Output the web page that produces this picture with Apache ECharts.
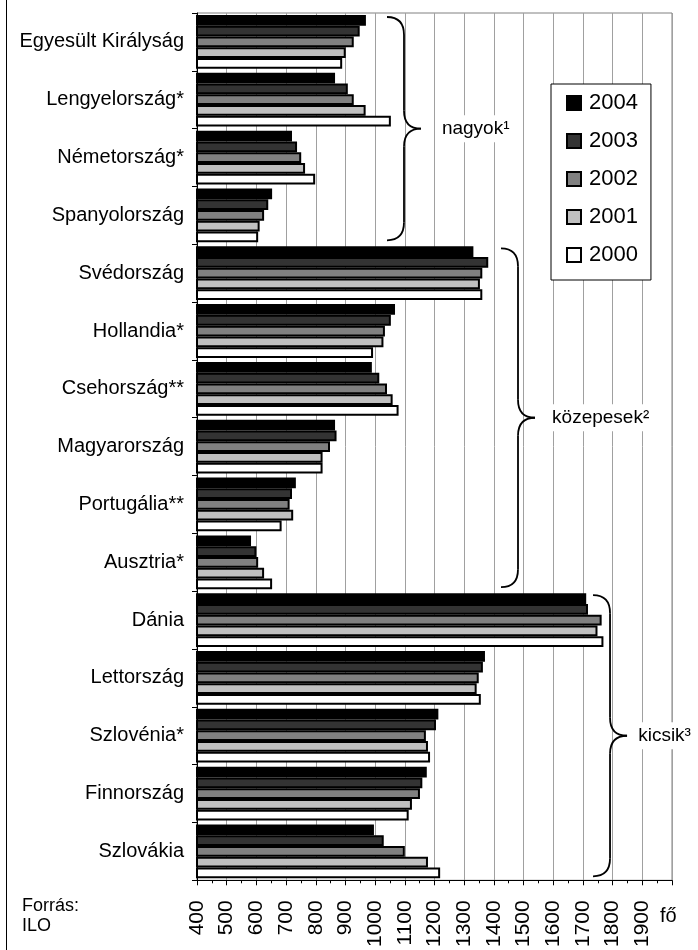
<!DOCTYPE html>
<html>
<head>
<meta charset="utf-8">
<script src="https://cdn.jsdelivr.net/npm/echarts@6/dist/echarts.min.js"></script>
<style>
  html, body { margin: 0; padding: 0; background: #fff; }
  #chart { width: 698px; height: 950px; }
</style>
</head>
<body>
<div id="chart"></div>
<script>
// countries, top to bottom
const countries = [
  'Egyesült Királyság', 'Lengyelország*', 'Németország*', 'Spanyolország',
  'Svédország', 'Hollandia*', 'Csehország**', 'Magyarország', 'Portugália**', 'Ausztria*',
  'Dánia', 'Lettország', 'Szlovénia*', 'Finnország', 'Szlovákia'
];
const years = ['2004', '2003', '2002', '2001', '2000'];

const v2004 = [969, 865, 720, 653, 1331, 1067, 989, 865, 733, 582, 1711, 1370, 1213, 1174, 996];
const v2003 = [948, 908, 737, 640, 1381, 1053, 1014, 870, 720, 600, 1717, 1363, 1205, 1159, 1029];
const v2002 = [928, 928, 751, 626, 1361, 1033, 1040, 848, 712, 606, 1763, 1349, 1171, 1151, 1100];
const v2001 = [901, 968, 764, 611, 1353, 1028, 1059, 823, 724, 626, 1749, 1342, 1178, 1124, 1178];
const v2000 = [889, 1053, 798, 606, 1361, 993, 1079, 823, 685, 653, 1769, 1356, 1185, 1113, 1219];

const yearValues = [v2004, v2003, v2002, v2001, v2000];
const yearColors = ['#000000', '#333333', '#808080', '#c0c0c0', '#ffffff'];

// group braces: category range, brace left edge and label start as axis values
const groups = [
  { label: 'nagyok¹', from: 0, to: 3, at: 1040, labelAt: 1225 },
  { label: 'közepesek²', from: 4, to: 9, at: 1424, labelAt: 1596 },
  { label: 'kicsik³', from: 10, to: 14, at: 1734, labelAt: 1886 }
];

const FONT = '"Liberation Sans", Arial, sans-serif';
const chart = echarts.init(document.getElementById('chart'));

const series = years.map((y, i) => ({
  name: y,
  type: 'bar',
  data: yearValues[i],
  barGap: '0%',
  barCategoryGap: '7%',
  itemStyle: {
    color: yearColors[i],
    borderColor: '#000',
    borderWidth: 2
  }
}));

chart.setOption({
  animation: false,
  backgroundColor: '#fff',
  textStyle: { fontFamily: FONT },
  grid: {
    left: 197,
    right: 26,
    top: 13,
    bottom: 65,
    show: true,
    borderColor: '#808080',
    borderWidth: 1
  },
  legend: {
    orient: 'vertical',
    left: 551,
    top: 84,
    data: years,
    backgroundColor: '#fff',
    borderColor: '#000',
    borderWidth: 1,
    borderRadius: 0,
    padding: [8, 13, 14, 15],
    itemGap: 16,
    itemWidth: 14,
    itemHeight: 14,
    icon: 'rect',
    textStyle: { fontSize: 22, color: '#000', fontFamily: FONT, lineHeight: 22, padding: [0, 0, 0, 3] }
  },
  xAxis: {
    type: 'value',
    min: 400,
    max: 2000,
    interval: 100,
    axisLine: { show: true, lineStyle: { color: '#000', width: 1 } },
    axisTick: { show: true, length: 5, lineStyle: { color: '#000' } },
    minorTick: { show: true, splitNumber: 2, length: 3, lineStyle: { color: '#000' } },
    splitLine: { show: true, lineStyle: { color: '#a0a0a0', width: 1 } },
    axisLabel: {
      rotate: 90,
      margin: 20,
      fontSize: 21,
      color: '#000',
      fontFamily: FONT,
      formatter: (v) => (v === 2000 ? '' : String(v))
    }
  },
  yAxis: {
    type: 'category',
    data: countries,
    inverse: true,
    axisLine: { show: true, lineStyle: { color: '#000', width: 1 } },
    axisTick: { show: true, length: 5, lineStyle: { color: '#000' } },
    splitLine: { show: false },
    axisLabel: { margin: 13, fontSize: 20, color: '#000', fontFamily: FONT }
  },
  series: series
});

function braceParts(x0, y0, y1, r) {
  const xm = x0 + 17;
  const xt = x0 + 34;
  const ym = (y0 + y1) / 2;
  const stroke = { fill: null, stroke: '#000', lineWidth: 1.8 };
  const curve = (a, b, c) => ({
    type: 'bezierCurve',
    z: 10,
    shape: { x1: a[0], y1: a[1], x2: c[0], y2: c[1], cpx1: b[0], cpy1: b[1] },
    style: stroke
  });
  const line = (a, b) => ({
    type: 'line',
    z: 10,
    shape: { x1: a[0], y1: a[1], x2: b[0], y2: b[1] },
    style: stroke
  });
  return [
    curve([x0, y0], [xm, y0], [xm, y0 + r]),
    line([xm, y0 + r], [xm, ym - r]),
    curve([xm, ym - r], [xm, ym], [xt, ym]),
    curve([xt, ym], [xm, ym], [xm, ym + r]),
    line([xm, ym + r], [xm, y1 - r]),
    curve([xm, y1 - r], [xm, y1], [x0, y1])
  ];
}

function drawExtras() {
  const c0 = chart.convertToPixel({ yAxisIndex: 0 }, countries[0]);
  const c1 = chart.convertToPixel({ yAxisIndex: 0 }, countries[1]);
  const band = c1 - c0;
  let elements = [];

  groups.forEach((g) => {
    const yTop = chart.convertToPixel({ yAxisIndex: 0 }, countries[g.from]) - band / 2 + 4;
    const yBot = chart.convertToPixel({ yAxisIndex: 0 }, countries[g.to]) + band / 2 - 4;
    const x0 = chart.convertToPixel({ xAxisIndex: 0 }, g.at);
    const lx = chart.convertToPixel({ xAxisIndex: 0 }, g.labelAt);
    elements = elements.concat(braceParts(x0, yTop, yBot, 18));
    elements.push({
      type: 'text',
      z: 11,
      x: lx - 2,
      y: (yTop + yBot) / 2,
      style: {
        text: g.label,
        fontSize: 19,
        fontFamily: FONT,
        fill: '#000',
        verticalAlign: 'middle',
        align: 'left',
        backgroundColor: '#fff',
        padding: [4, 2]
      }
    });
  });

  // unit label at the end of the value axis
  elements.push({
    type: 'text',
    z: 11,
    x: chart.convertToPixel({ xAxisIndex: 0 }, 2000) - 12,
    y: 916,
    style: { text: 'fő', fontSize: 20, fontFamily: FONT, fill: '#000', verticalAlign: 'middle' }
  });
  // source
  elements.push({
    type: 'text',
    z: 11,
    x: 22,
    y: 896,
    style: { text: 'Forrás:\nILO', fontSize: 18, lineHeight: 20, fontFamily: FONT, fill: '#000' }
  });
  // frame line on the left
  elements.push({
    type: 'line',
    z: 11,
    shape: { x1: 6.5, y1: 0, x2: 6.5, y2: 950 },
    style: { stroke: '#000', lineWidth: 1 }
  });

  chart.setOption({ graphic: { elements: elements } });
}

drawExtras();
</script>
</body>
</html>
